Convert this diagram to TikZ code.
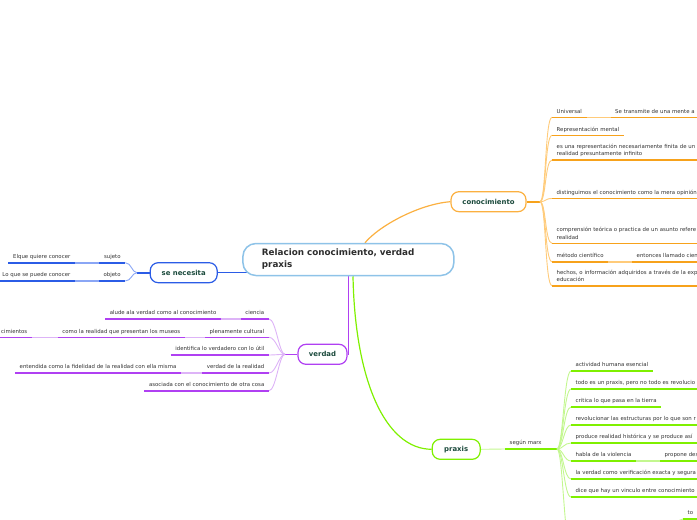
\documentclass[tikz,border=0pt]{standalone}
\usepackage{fontspec}
\setmainfont{DejaVu Sans}
\usetikzlibrary{backgrounds}
\definecolor{ctext}{HTML}{1B4A3C}
\definecolor{ltext}{HTML}{333333}
\definecolor{mtext}{HTML}{2D2D2D}
\definecolor{cblue}{HTML}{8EC3E8}
\definecolor{oline}{HTML}{F7A21B}
\definecolor{onode}{HTML}{FBB040}
\definecolor{olight}{HTML}{FFCB7A}
\definecolor{bline}{HTML}{2B5CE6}
\definecolor{blight}{HTML}{8AA6F5}
\definecolor{pline}{HTML}{B040F2}
\definecolor{plight}{HTML}{DDB3F7}
\definecolor{gline}{HTML}{7FF000}
\definecolor{glight}{HTML}{C3F78F}
\newcommand\leafsize{\fontsize{5.4pt}{7.3pt}\selectfont}
\newcommand\topicsize{\bfseries\fontsize{6.9pt}{8pt}\selectfont}
\newcommand\centsize{\bfseries\fontsize{8.8pt}{12pt}\selectfont}
\tikzset{
  leaf/.style={inner xsep=4.5pt, inner ysep=2.4pt, font=\leafsize, text=ltext,
    execute at end node={\rule[-1.5pt]{0pt}{1pt}}},
  lleaf/.style={leaf, align=left, anchor=south west},
  rleaf/.style={leaf, align=right, anchor=south east},
  openleaf/.style={lleaf, text width=170pt},
  topic/.style={draw=#1, line width=1.2pt, rounded corners=8pt, fill=white,
    font=\topicsize, text=ctext, minimum height=20pt, inner sep=0pt},
  mainnode/.style={draw=cblue, line width=1.5pt, fill=white, rounded corners=13pt,
    minimum height=32pt, text width=173pt, inner xsep=19pt, inner ysep=0pt,
    align=left, font=\centsize, text=mtext},
  ul/.style={draw=#1, line width=1.6pt},
  hublink/.style={draw=#1, line width=0.9pt},
  toplink/.style={draw=#1, line width=1.2pt},
}
\begin{document}
\begin{tikzpicture}[x=1pt,y=-1pt]
\useasboundingbox (0,0) rectangle (697,520);
\clip (0,0) rectangle (697,520);

% main and topic nodes
\node[mainnode] (central) at (348.4,259.5) {Relacion conocimiento, verdad\\praxis};
\node[topic=onode, minimum width=75pt] (cono) at (488.5,201.7) {conocimiento};
\node[topic=bline, minimum width=67pt] (senec) at (183.7,272.7) {se necesita};
\node[topic=pline, minimum width=49pt] (verdad) at (322.5,354.3) {verdad};
\node[topic=gline, minimum width=48pt] (praxis) at (456.2,449.3) {praxis};

% conocimiento leaves
\node[lleaf] (c1) at (552,117.3) {Universal};
\node[openleaf] (c1b) at (610.5,117.3) {Se transmite de una mente a};
\node[lleaf] (c2) at (552,135.3) {Representación mental};
\node[openleaf] (c3) at (552,160) {es una representación necesariamente finita de un\\realidad presuntamente infinito};
\node[openleaf] (c4) at (552,198.5) {distinguimos el conocimiento como la mera opinión};
\node[openleaf] (c5) at (552,243.3) {comprensión teórica o practica de un asunto refere\\realidad};
\node[lleaf] (c6) at (552,261.7) {método científico};
\node[openleaf] (c6b) at (632,261.7) {entonces llamado cien};
\node[openleaf] (c7) at (552,285.7) {hechos, o información adquiridos a través de la exp\\educación};
\coordinate (chub) at (540,201.7);

% se necesita leaves
\node[rleaf] (s1) at (125.3,262.7) {sujeto};
\node[rleaf] (s2) at (125.3,281) {objeto};
\node[rleaf] (s1b) at (75,262.7) {Elque quiere conocer};
\node[rleaf] (s2b) at (75,281) {Lo que se puede conocer};
\coordinate (shub) at (137,272.7);

% verdad leaves
\node[rleaf] (v1) at (269,319) {ciencia};
\node[rleaf] (v2) at (269,337.3) {plenamente cultural};
\node[rleaf] (v3) at (269,355) {identifica lo verdadero con lo útil};
\node[rleaf] (v4) at (269,373) {verdad de la realidad};
\node[rleaf] (v5) at (269,390.7) {asociada con el conocimiento de otra cosa};
\node[rleaf] (v1b) at (221,319) {alude ala verdad como al conocimiento};
\node[rleaf] (v2b) at (185,337.3) {como la realidad que presentan los museos};
\node[rleaf] (v2c) at (32,337.3) {cimientos};
\node[rleaf] (v4b) at (181,373) {entendida como la fidelidad de la realidad con ella misma};
\coordinate (vhub) at (285,354.3);

% praxis leaves
\node[lleaf] (segun) at (505,449) {según marx};
\coordinate (ghub) at (557,449);
\node[lleaf] (p1) at (571,371) {actividad humana esencial};
\node[openleaf] (p2) at (571,389) {todo es un praxis, pero no todo es revolucio};
\node[lleaf] (p3) at (571,407) {critica lo que pasa en la tierra};
\node[openleaf] (p4) at (571,425) {revolucionar las estructuras por lo que son r};
\node[openleaf] (p5) at (571,443) {produce realidad histórica y se produce así};
\node[lleaf] (p6) at (571,461) {habla de la violencia};
\node[openleaf] (p6b) at (660,461) {propone des};
\node[openleaf] (p7) at (571,479) {la verdad como verificación exacta y segura};
\node[openleaf] (p8) at (571,497) {dice que hay un vinculo entre conocimiento};
\coordinate (p9) at (571,548);
\coordinate (p9e) at (655,548);
\node[openleaf] (p9b) at (683,519) {to};

\begin{scope}[on background layer]
  % central to topics
  \draw[toplink=onode] ([xshift=16.6pt]central.north) .. controls (380,225) and (420,204) .. (cono.west);
  \draw[toplink=bline] (senec.east) -- ([xshift=6pt]senec.east -| central.west);
  \draw[toplink=pline] (central.south) |- (verdad.east);
  \draw[toplink=gline] ([xshift=4.6pt]central.south) .. controls (355,380) and (385,449) .. (praxis.west);

  % conocimiento
  \draw[ul=oline] (cono.east) -- (chub);
  \foreach \n in {c1,c2,c3,c4,c5,c6,c7}
    \draw[hublink=olight] (chub) .. controls +(6,0) and +(-7,0) .. (\n.south west);
  \draw[ul=olight] (c1.south east) -- (c1b.south west);
  \draw[ul=olight] (c6.south east) -- (c6b.south west);
  \foreach \n in {c1,c1b,c2,c3,c4,c5,c6,c6b,c7}
    \draw[ul=oline] (\n.south west) -- (\n.south east);

  % se necesita
  \draw[ul=bline] (senec.west) -- (shub);
  \foreach \n in {s1,s2}
    \draw[hublink=blight] (shub) .. controls +(-5,0) and +(6,0) .. (\n.south east);
  \draw[ul=blight] (s1.south west) -- (s1b.south east);
  \draw[ul=blight] (s2.south west) -- (s2b.south east);
  \foreach \n in {s1,s2,s1b,s2b}
    \draw[ul=bline] (\n.south west) -- (\n.south east);

  % verdad
  \draw[ul=pline] (verdad.west) -- (vhub);
  \foreach \n in {v1,v2,v3,v4,v5}
    \draw[hublink=plight] (vhub) .. controls +(-6,0) and +(7,0) .. (\n.south east);
  \draw[ul=plight] (v1.south west) -- (v1b.south east);
  \draw[ul=plight] (v2.south west) -- (v2b.south east);
  \draw[ul=plight] (v2b.south west) -- (v2c.south east);
  \draw[ul=plight] (v4.south west) -- (v4b.south east);
  \foreach \n in {v1,v2,v3,v4,v5,v1b,v2b,v2c,v4b}
    \draw[ul=pline] (\n.south west) -- (\n.south east);

  % praxis
  \draw[hublink=glight] (praxis.east) -- (segun.south west);
  \draw[ul=gline] (segun.south west) -- (ghub);
  \foreach \n in {p1,p2,p3,p4,p5,p6,p7,p8}
    \draw[hublink=glight] (ghub) .. controls +(6,0) and +(-7,0) .. (\n.south west);
  \draw[hublink=glight] (ghub) .. controls +(6,0) and +(-7,0) .. (p9);
  \draw[ul=glight] (p6.south east) -- (p6b.south west);
  \draw[hublink=glight] (p9e) .. controls +(14,0) and +(-10,0) .. (p9b.south west);
  \foreach \n in {p1,p2,p3,p4,p5,p6,p6b,p7,p8,p9b}
    \draw[ul=gline] (\n.south west) -- (\n.south east);
\end{scope}
\end{tikzpicture}
\end{document}
